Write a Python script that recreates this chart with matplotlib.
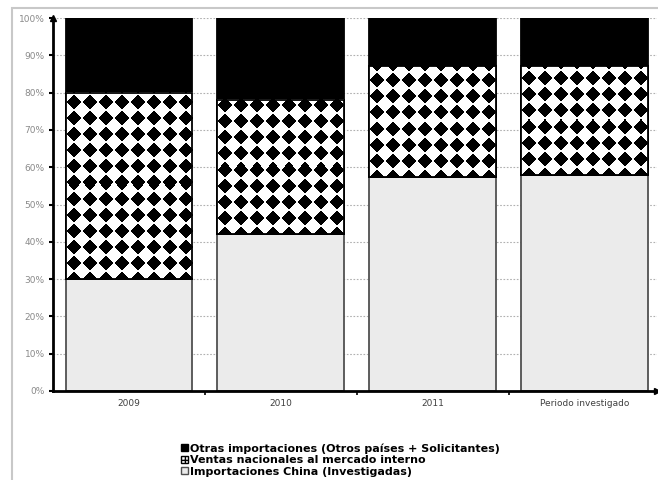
import matplotlib.pyplot as plt
from matplotlib.patches import Patch, Rectangle
import numpy as np

# data (percent of total)
categories = ["2009", "2010", "2011", "Periodo investigado"]
china = [30, 42, 57.5, 58]
ventas = [50, 36, 29.5, 29]
otras = [20, 22, 13, 13]

labels = ["Otras importaciones (Otros países + Solicitantes)",
          "Ventas nacionales al mercado interno",
          "Importaciones China (Investigadas)"]


def diamondTexture(wpx, hpx, px=16.0, py=16.0):
    # black diamonds on white, pitch given in pixels
    u = (np.arange(wpx) + 0.5) / px
    v = (np.arange(hpx) + 0.5) / py
    U, V = np.meshgrid(u, v)
    fu = np.abs((U - 0.5) - np.round(U - 0.5)) * 2
    fv = np.abs(V - np.round(V)) * 2
    inside = fu ** 0.85 + fv ** 0.85 <= 1.0
    return np.where(inside, 0.0, 1.0)


fig = plt.figure(figsize=(6.58, 4.8), dpi=100)
W, H = 658.0, 480.0
ax = fig.add_axes([53 / W, 89 / H, (657 - 53) / W, (391 - 18) / H])

# outer frame of the chart area
fig.patches.append(Rectangle((12 / W, -0.1), 2.0, (480 - 8) / H + 0.1, transform=fig.transFigure,
                             fill=False, edgecolor="#c8c8c8", linewidth=1.5, zorder=0))

x = np.arange(len(categories))
width = 0.835
ax.set_xlim(-0.5, 3.475)
ax.set_ylim(0, 100)

ax.yaxis.grid(True, linestyle=(0, (1.5, 1.5)), color="#b0b0b0", linewidth=0.8)
ax.set_axisbelow(True)

b1 = ax.bar(x, china, width, color="#ebebeb", edgecolor="#505050", linewidth=1.3, zorder=2)
b2 = ax.bar(x, ventas, width, bottom=china, color="white", edgecolor="black", linewidth=1.3, zorder=2)
bottom3 = [c + v for c, v in zip(china, ventas)]
b3 = ax.bar(x, otras, width, bottom=bottom3, color="black", edgecolor="black", linewidth=1.3, zorder=2)

# diamond pattern inside the ventas bars, built at screen resolution
for p in b2.patches:
    x0, y0 = p.get_x(), p.get_y()
    w, h = p.get_width(), p.get_height()
    bb = p.get_window_extent()
    img = diamondTexture(int(round(bb.width)), int(round(bb.height)))
    ax.imshow(img, cmap="gray", vmin=0, vmax=1, extent=(x0, x0 + w, y0, y0 + h),
              origin="lower", aspect="auto", interpolation="nearest", zorder=2.5)
    ax.add_patch(Rectangle((x0, y0), w, h, fill=False, edgecolor="black", linewidth=1.3, zorder=3))
ax.set_xlim(-0.5, 3.475)
ax.set_ylim(0, 100)

for s in ["top", "right"]:
    ax.spines[s].set_visible(False)
for s in ["left", "bottom"]:
    ax.spines[s].set_linewidth(2)
    ax.spines[s].set_zorder(4)
ax.plot([0], [1], marker="^", color="black", markersize=5, transform=ax.transAxes, clip_on=False, zorder=5)
ax.plot([1], [0], marker=">", color="black", markersize=5, transform=ax.transAxes, clip_on=False, zorder=5)

ax.set_yticks(np.arange(0, 101, 10))
ax.set_yticklabels(["%d%%" % v for v in range(0, 101, 10)])
ax.tick_params(axis="y", length=3, width=1.5, labelsize=6.5, labelcolor="#8a8a8a", pad=3)

ax.set_xticks(x)
ax.set_xticklabels(categories)
ax.set_xticks([0.5, 1.5, 2.5], minor=True)
ax.tick_params(axis="x", which="major", length=0, labelsize=6.5, labelcolor="#404040", pad=6)
ax.tick_params(axis="x", which="minor", length=3, width=1.2)

handles = [Patch(facecolor="black", edgecolor="black"),
           Patch(facecolor="white", edgecolor="black", hatch="++++"),
           Patch(facecolor="#ebebeb", edgecolor="#505050")]
fig.legend(handles, labels, loc="upper left", bbox_to_anchor=(181 / W, 1 - 443 / H),
           frameon=False, handlelength=0.6, handleheight=0.6,
           handletextpad=0.2, labelspacing=0.15, borderaxespad=0, borderpad=0,
           prop={"weight": "bold", "size": 8})

fig.savefig("out.png", dpi=100)
